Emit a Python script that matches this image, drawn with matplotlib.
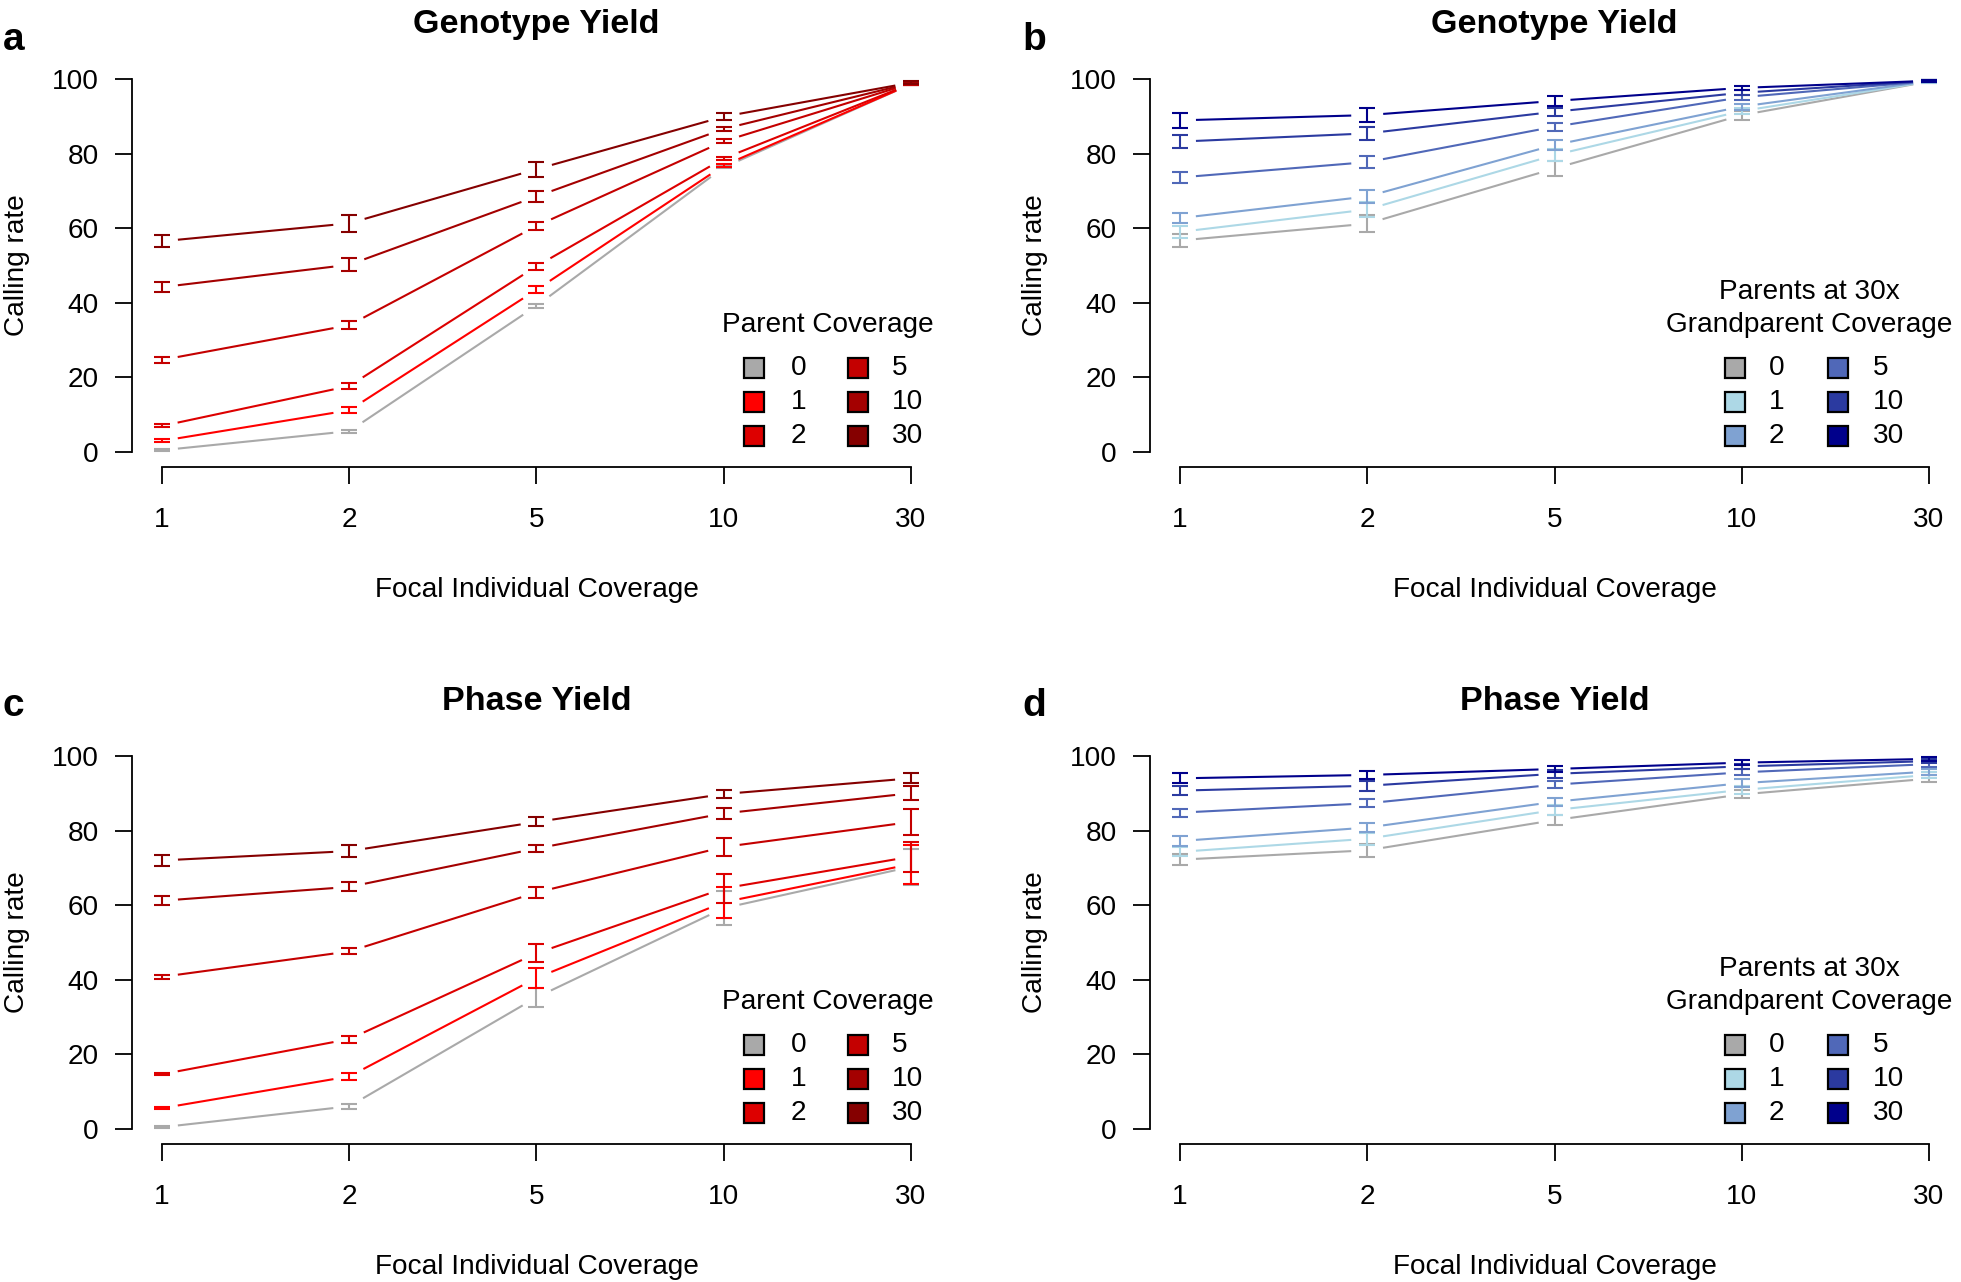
import numpy as np
import matplotlib.pyplot as plt

plt.rcParams['font.family'] = ['Liberation Sans', 'DejaVu Sans']

focal_cov = ["1", "2", "5", "10", "30"]
cov_levels = ["0", "1", "2", "5", "10", "30"]

red_cols = ["#A9A9A9", "#FF0000", "#DD0000", "#C40000", "#A40000", "#850000"]
blue_cols = ["#A9A9A9", "#ADD8E6", "#7FA2D2", "#5068B8", "#2B3AA0", "#00008B"]

# rows = coverage level (0,1,2,5,10,30), cols = focal coverage (1,2,5,10,30)
geno_parent_mean = [
    [0.5, 5.6, 39.2, 76.3, 98.6],
    [3.0, 11.2, 43.5, 76.8, 98.6],
    [7.0, 17.7, 49.8, 78.7, 98.7],
    [24.7, 34.0, 60.6, 83.3, 98.8],
    [44.2, 50.2, 68.5, 86.6, 98.9],
    [56.5, 61.3, 75.8, 89.9, 99.0],
]
geno_parent_err = [
    [0.3, 0.4, 0.6, 0.3, 0.3],
    [0.4, 0.8, 0.9, 0.4, 0.3],
    [0.4, 0.8, 1.0, 0.5, 0.3],
    [0.7, 1.1, 1.0, 0.5, 0.3],
    [1.3, 1.7, 1.4, 0.5, 0.3],
    [1.6, 2.3, 2.0, 0.9, 0.4],
]
geno_gp_mean = [
    [56.7, 61.2, 76.0, 90.3, 99.3],
    [59.0, 65.0, 79.6, 91.4, 99.3],
    [62.7, 68.5, 82.3, 92.6, 99.4],
    [73.6, 77.7, 87.2, 95.1, 99.4],
    [83.2, 85.4, 91.2, 96.3, 99.5],
    [88.9, 90.3, 94.1, 97.6, 99.5],
]
geno_gp_err = [
    [1.7, 2.2, 2.0, 1.2, 0.3],
    [1.5, 1.9, 1.6, 0.9, 0.3],
    [1.4, 1.7, 1.4, 0.8, 0.3],
    [1.4, 1.6, 1.1, 0.7, 0.3],
    [1.7, 1.7, 1.1, 0.6, 0.3],
    [2.0, 1.8, 1.3, 0.5, 0.3],
]
phase_parent_mean = [
    [0.5, 6.1, 35.3, 59.2, 70.3],
    [5.6, 14.1, 40.5, 60.8, 71.0],
    [14.7, 24.1, 47.1, 64.5, 73.0],
    [40.8, 47.6, 63.4, 75.6, 82.3],
    [61.2, 64.9, 75.2, 84.6, 90.0],
    [72.0, 74.5, 82.3, 89.8, 94.0],
]
phase_parent_err = [
    [0.3, 0.7, 2.6, 4.6, 4.8],
    [0.3, 0.9, 2.7, 4.2, 5.2],
    [0.3, 0.9, 2.4, 3.9, 4.0],
    [0.6, 0.8, 1.5, 2.5, 3.5],
    [1.2, 1.2, 1.0, 1.4, 1.9],
    [1.5, 1.6, 1.2, 1.0, 1.3],
]
phase_gp_mean = [
    [72.2, 74.7, 82.8, 89.7, 93.9],
    [74.3, 77.8, 85.5, 90.9, 94.9],
    [77.2, 80.8, 87.7, 92.7, 95.8],
    [84.8, 87.3, 92.3, 95.6, 97.8],
    [90.7, 92.0, 95.2, 97.2, 98.6],
    [94.0, 94.9, 96.5, 98.2, 99.2],
]
phase_gp_err = [
    [1.5, 1.7, 1.3, 1.1, 0.9],
    [1.2, 1.6, 1.3, 1.0, 0.9],
    [1.3, 1.3, 1.1, 1.0, 0.8],
    [1.1, 1.1, 1.0, 0.8, 0.7],
    [1.3, 1.3, 1.0, 0.7, 0.6],
    [1.3, 1.1, 0.9, 0.7, 0.6],
]

FS = 20.2
W, H = 1961, 1282
LW = 1.5
GAP = 16  # px left open around each point, like R type="b"


def gapped_line(ax, x, y, color):
    pts = ax.transData.transform(np.column_stack([x, y]))
    inv = ax.transData.inverted()
    for i in range(len(pts) - 1):
        p0, p1 = pts[i], pts[i + 1]
        d = p1 - p0
        n = np.hypot(*d)
        if n <= 2 * GAP:
            continue
        u = d / n
        a, b = inv.transform([p0 + u * GAP, p1 - u * GAP])
        ax.plot([a[0], b[0]], [a[1], b[1]], color=color, lw=LW, solid_capstyle='butt')


def legend_block(ax, spec, colors, px_left):
    # pixel positions taken from the reference layout
    def fx(px):
        return (px - px_left) / 809.0

    def fy(dy):
        return (dy + 15) / 403.0

    title_lines, (tx, sq1, sq2, lb1, lb2) = spec
    nl = len(title_lines)
    for j, line in enumerate(title_lines):
        ax.text(fx(tx), fy(127 + 33 * (nl - 1 - j)), line, transform=ax.transAxes,
                ha='center', va='center', fontsize=FS)
    rows = [84, 50, 16]
    for k, lab in enumerate(cov_levels):
        col = k // 3
        r = rows[k % 3]
        sx = sq1 if col == 0 else sq2
        lx = lb1 if col == 0 else lb2
        ax.plot([fx(sx)], [fy(r)], marker='s', ms=14, mfc=colors[k], mec='black', mew=1.6,
                transform=ax.transAxes, clip_on=False)
        ax.text(fx(lx), fy(r), lab, transform=ax.transAxes, ha='left', va='center', fontsize=FS)


def panel(ax, means, errs, colors, title, legend_spec, px_left):
    ax.set_xlim(-0.16, 4.16)
    ax.set_ylim(-4, 104)
    x = np.arange(len(focal_cov))
    for k in range(len(cov_levels)):
        ax.errorbar(x, means[k], yerr=errs[k], fmt='none', ecolor=colors[k], elinewidth=LW,
                    capsize=5.5, capthick=LW)
        gapped_line(ax, x, means[k], colors[k])

    for s in ['top', 'right']:
        ax.spines[s].set_visible(False)
    ax.spines['left'].set_bounds(0, 100)
    ax.spines['bottom'].set_bounds(0, 4)
    for s in ['left', 'bottom']:
        ax.spines[s].set_linewidth(1.3)
    ax.set_xticks(x)
    ax.set_xticklabels(focal_cov)
    ax.set_yticks([0, 20, 40, 60, 80, 100])
    ax.tick_params(axis='both', direction='out', length=12, width=1.3, labelsize=FS)
    ax.tick_params(axis='x', pad=17)
    ax.tick_params(axis='y', pad=12)

    ax.text(0.5, (467 - 25) / 403.0, title, transform=ax.transAxes, ha='center', va='center',
            fontsize=24.6, fontweight='bold')
    ax.text(0.5, (467 - 590) / 403.0, "Focal Individual Coverage", transform=ax.transAxes,
            ha='center', va='center', fontsize=FS)
    ax.text(-(132 - 17) / 809.0, 0.5, "Calling rate", transform=ax.transAxes, rotation=90,
            ha='center', va='center', fontsize=FS)
    legend_block(ax, legend_spec, colors, px_left)


fig = plt.figure(figsize=(W / 100, H / 100), dpi=100)
aw, ah = 809 / W, 403 / H
ax_a = fig.add_axes([132 / W, 1 - 467 / H, aw, ah])
ax_b = fig.add_axes([1150 / W, 1 - 467 / H, aw, ah])
ax_c = fig.add_axes([132 / W, 1 - 1144 / H, aw, ah])
ax_d = fig.add_axes([1150 / W, 1 - 1144 / H, aw, ah])

parent_leg = (["Parent Coverage"], (828, 754, 858, 791, 892))
gp_leg = (["Parents at 30x", "Grandparent Coverage"], (1809, 1735, 1838, 1769, 1873))

panel(ax_a, geno_parent_mean, geno_parent_err, red_cols, "Genotype Yield", parent_leg, 132)
panel(ax_b, geno_gp_mean, geno_gp_err, blue_cols, "Genotype Yield", gp_leg, 1150)
panel(ax_c, phase_parent_mean, phase_parent_err, red_cols, "Phase Yield", parent_leg, 132)
panel(ax_d, phase_gp_mean, phase_gp_err, blue_cols, "Phase Yield", gp_leg, 1150)

for lab, px, py in [("a", 3, 50), ("b", 1022, 50), ("c", 3, 716), ("d", 1022, 716)]:
    fig.text(px / W, 1 - py / H, lab, ha='left', va='baseline', fontsize=28, fontweight='bold')

fig.savefig("out.png", dpi=100)
